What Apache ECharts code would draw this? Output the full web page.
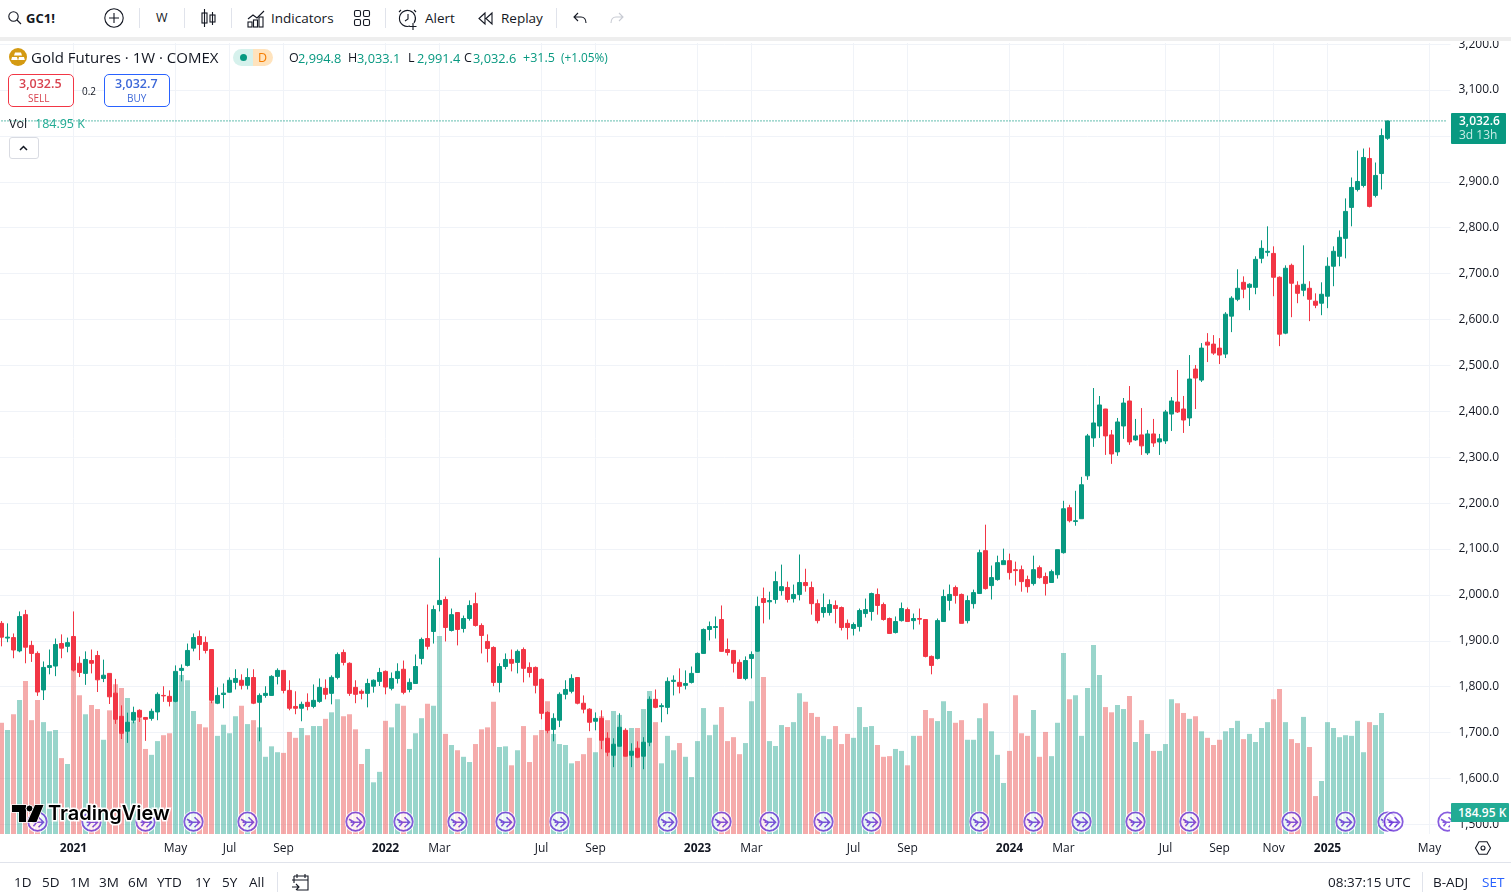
<!DOCTYPE html>
<html>
<head>
<meta charset="utf-8">
<title>GC1! weekly</title>
<script src="https://cdn.jsdelivr.net/npm/echarts@6/dist/echarts.min.js"></script>
<style>
html,body{margin:0;padding:0;background:#fff;width:1511px;height:892px;overflow:hidden}
body,div,span{font-family:"Open Sans","Noto Sans",sans-serif;color:#131722}
#main{position:absolute;left:0;top:0;width:1511px;height:892px}
.t{position:absolute;white-space:nowrap;line-height:1;font-size:13.5px}
.b{position:absolute;background:#e0e3eb}
.g{color:#089981}
svg{position:absolute;overflow:visible}
svg *{fill:none;stroke:#131722;stroke-width:1.1}
</style>
</head>
<body>
<div id="main"></div>

<!-- toolbar -->
<div class="b" style="left:0;top:0;width:1511px;height:37px;background:#fff"></div>
<div class="b" style="left:0;top:37px;width:1511px;height:4px;background:#eeeeee"></div>
<svg style="left:8px;top:11px" width="14" height="14"><circle cx="5.5" cy="5.5" r="4.7"/><path d="M9 9l4 4"/></svg>
<span class="t" style="left:26px;top:12px;font-weight:700;font-size:13px">GC1!</span>
<svg style="left:104px;top:8px" width="20" height="20"><circle cx="10" cy="10" r="9.2"/><path d="M10 5v10M5 10h10"/></svg>
<div class="b" style="left:139px;top:8px;width:1px;height:20px"></div>
<span class="t" style="left:156px;top:12px;font-size:12.5px">W</span>
<div class="b" style="left:184px;top:8px;width:1px;height:20px"></div>
<svg style="left:201px;top:9px" width="15" height="18"><path d="M3.5 0v18M11.5 3v13"/><rect x="1" y="4" width="5" height="10"/><rect x="9" y="6" width="5" height="7"/></svg>
<div class="b" style="left:231px;top:8px;width:1px;height:20px"></div>
<svg style="left:247px;top:9px" width="18" height="18"><path d="M1 10l5-4 4 3 7-7"/><rect x="1" y="13" width="4" height="5"/><rect x="6.5" y="11" width="4" height="7"/><rect x="12" y="8" width="4" height="10"/></svg>
<span class="t" style="left:271px;top:12px">Indicators</span>
<svg style="left:354px;top:10px" width="16" height="16"><rect x="0.5" y="0.5" width="6" height="6" rx="1.5"/><rect x="9.5" y="0.5" width="6" height="6" rx="1.5"/><rect x="0.5" y="9.5" width="6" height="6" rx="1.5"/><rect x="9.5" y="9.5" width="6" height="6" rx="1.5"/></svg>
<div class="b" style="left:385px;top:8px;width:1px;height:20px"></div>
<svg style="left:399px;top:8px" width="20" height="22"><path d="M15 15a8 8 0 1 0-4 3M9 6v5l-3 2M2 2L0 4M15 2l2 2M14 15v7M10.500 18.500h7"/></svg>
<span class="t" style="left:425px;top:12px">Alert</span>
<svg style="left:478px;top:12px" width="16" height="13"><path d="M7 1L1 6.500l6 5.500zM14 1L8 6.500l6 5.500z"/></svg>
<span class="t" style="left:501px;top:12px">Replay</span>
<div class="b" style="left:556px;top:8px;width:1px;height:20px"></div>
<svg style="left:573px;top:12px" width="14" height="12"><path d="M5 1L1 5l4 4M1 5h7c3 0 5 2 5 6"/></svg>
<svg style="left:610px;top:12px" width="14" height="12"><path style="stroke:#c8cbd3" d="M9 1l4 4-4 4M13 5H6c-3 0-5 2-5 6"/></svg>

<!-- legend -->
<svg style="left:9px;top:48px" width="18" height="18"><circle cx="9" cy="9" r="9" style="fill:#d49a12;stroke:none"/><path style="fill:#fff;stroke:none" d="M6 4.500h6l1 3H5zM3 9h5l.8 3H2.200zM10 9h5l.8 3H9.200z"/></svg>
<span class="t" style="left:31px;top:50px;font-size:15px">Gold Futures · 1W · COMEX</span>
<div class="b" style="left:233px;top:49px;width:20px;height:17px;background:#d6f1ec;border-radius:9px 0 0 9px"></div>
<div class="b" style="left:253px;top:49px;width:20px;height:17px;background:#ffe3bd;border-radius:0 9px 9px 0"></div>
<div class="b" style="left:240px;top:54px;width:7px;height:7px;background:#089981;border-radius:50%"></div>
<span class="t" style="left:258px;top:52px;font-size:12.5px;color:#f57c00">D</span>
<span class="t" style="left:289px;top:52px;font-size:12.5px">O</span><span class="t g" style="left:298px;top:52px;font-size:12.8px">2,994.8</span>
<span class="t" style="left:348px;top:52px;font-size:12.5px">H</span><span class="t g" style="left:357px;top:52px;font-size:12.8px">3,033.1</span>
<span class="t" style="left:408px;top:52px;font-size:12.5px">L</span><span class="t g" style="left:417px;top:52px;font-size:12.8px">2,991.4</span>
<span class="t" style="left:464px;top:52px;font-size:12.5px">C</span><span class="t g" style="left:473px;top:52px;font-size:12.8px">3,032.6</span>
<span class="t g" style="left:523px;top:52px;font-size:12.5px">+31.5</span><span class="t g" style="left:561px;top:52px;font-size:11.8px">(+1.05%)</span>

<div class="b" style="left:8px;top:74px;width:64px;height:31px;background:#fff;border:1px solid #f23645;border-radius:5px"></div>
<span class="t" style="left:19px;top:78px;font-size:12.5px;font-weight:600;color:#d8434f">3,032.5</span>
<span class="t" style="left:28px;top:93px;font-size:10px;color:#d8434f">SELL</span>
<span class="t" style="left:82px;top:86px;font-size:10px">0.2</span>
<div class="b" style="left:104px;top:74px;width:64px;height:31px;background:#fff;border:1px solid #2962ff;border-radius:5px"></div>
<span class="t" style="left:115px;top:78px;font-size:12.5px;font-weight:600;color:#3d68d8">3,032.7</span>
<span class="t" style="left:127px;top:93px;font-size:10px;color:#3d68d8">BUY</span>

<span class="t" style="left:9px;top:118px;font-size:12.5px">Vol</span>
<span class="t" style="left:35px;top:118px;font-size:12.5px;color:#22ab94">184.95 K</span>
<div class="b" style="left:9px;top:137px;width:28px;height:20px;background:#fff;border:1px solid #d9dbe2;border-radius:3px"></div>
<svg style="left:19px;top:145px" width="9" height="6"><path style="stroke-width:1.5" d="M1 5l3.500-3.500L8 5"/></svg>

<!-- price tags -->
<div class="b" style="left:1450px;top:822px;width:9px;height:13px;background:#fff"></div>
<div class="b" style="left:1451px;top:113px;width:55px;height:31px;background:#089981;border-radius:1px"></div>
<span class="t" style="left:1459px;top:115px;font-size:12px;font-weight:600;color:#fff">3,032.6</span>
<span class="t" style="left:1459px;top:129px;font-size:12px;color:#c9ece6">3d 13h</span>
<div class="b" style="left:1451px;top:803px;width:58px;height:19px;background:#22ab94;border-radius:1px"></div>
<span class="t" style="left:1458px;top:807px;font-size:12px;font-weight:600;color:#fff">184.95 K</span>

<!-- logo -->
<svg style="left:12px;top:805px" width="32" height="17"><path style="fill:#000;stroke:#fff;stroke-width:1.500;paint-order:stroke" d="M0 0h14v17H7V7H0z"/><circle cx="17.500" cy="3.500" r="3.500" style="fill:#000;stroke:#fff;stroke-width:1"/><path style="fill:#000;stroke:#fff;stroke-width:1.500;paint-order:stroke" d="M23 0h8.500l-7 17H15.500z"/></svg>
<span class="t" style="left:48px;top:803px;font-family:Inter,sans-serif;font-weight:600;font-size:20px;color:#000;-webkit-text-stroke:3px #fff;paint-order:stroke fill">TradingView</span>

<!-- footer -->
<div class="b" style="left:0;top:862px;width:1511px;height:1px"></div>
<span class="t" style="left:14px;top:876px">1D</span>
<span class="t" style="left:42px;top:876px">5D</span>
<span class="t" style="left:70px;top:876px">1M</span>
<span class="t" style="left:99px;top:876px">3M</span>
<span class="t" style="left:128px;top:876px">6M</span>
<span class="t" style="left:157px;top:876px">YTD</span>
<span class="t" style="left:195px;top:876px">1Y</span>
<span class="t" style="left:222px;top:876px">5Y</span>
<span class="t" style="left:249px;top:876px">All</span>
<div class="b" style="left:277px;top:872px;width:1px;height:20px"></div>
<svg style="left:291px;top:873px" width="19" height="18"><path d="M3 3h14v14H6M3 3v7M1 7h16M6 1v4M14 1v4M1 14h7M5 11l3 3-3 3"/></svg>
<span class="t" style="left:1328px;top:876px">08:37:15 UTC</span>
<div class="b" style="left:1422px;top:872px;width:1px;height:20px"></div>
<span class="t" style="left:1433px;top:876px">B-ADJ</span>
<span class="t" style="left:1482px;top:876px;color:#2962ff">SET</span>
<svg style="left:1475px;top:841px" width="16" height="14"><path d="M4 .7h8L15.500 7 12 13.300H4L.5 7z"/><circle cx="8" cy="7" r="2"/></svg>

<script>
// weekly bars
var opens = [
1938,1906,1907,1878,1957,1890,1872.5,1793,1842,1845,
1894,1888,1909.4,1851,1829,1857,1868,1818,1829,1786,
1735.5,1703,1727,1748.6,1733,1731,1745,1781,1779,1768,
1835.5,1846.4,1884,1909.4,1896.4,1881,1764,1783,1788,1809.4,
1814,1803,1820,1766,1781,1781,1822.5,1835.5,1792,1757,
1753,1766,1757,1768,1796.4,1785.5,1820.3,1874.6,1851,1798.6,
1790,1785.5,1801,1811.6,1833.4,1796.4,1818,1838,1794,1807,
1861.6,1905,1920.3,1979,1990,1922.5,1961.6,1926.8,1948.6,1981,
1933.4,1898.6,1885.5,1809.4,1844,1859.4,1853,1881,1842,1842,
1816,1744,1707,1727,1783.4,1790,1820,1764,1751,1724.7,
1731,1687.7,1650.7,1670.3,1705,1650.7,1666,1648.6,1679,1772.5,
1756.6,1755,1811.6,1809.4,1803,1809.4,1831,1872.5,1924.7,1929,
1946.4,1881,1879,1853,1818,1861.6,1877,1992,1985,1990,
2009.4,2016,1992,2001,2027,2016,1981,1961.6,1961.6,1977,
1972.5,1938,1927,1931,1959.4,1963.8,2001,1979,1948.6,1918,
1944,1968,1944,1948.6,1946.4,1866,1861.6,1942,1988,2016,
2001,1944,1981,2003,2096.4,2020.3,2033.4,2066,2074.6,2055,
2055,2033.4,2024.7,2059.4,2040,2027,2044,2092,2190,2160,
2166,2259.4,2342,2368,2405,2348.6,2311.6,2368,2422.5,2337.7,
2348.6,2309.4,2350.7,2333.3,2335.5,2394,2420.3,2405,2385.5,2492,
2468,2550.7,2546.4,2537.7,2524.7,2607.3,2644,2681,2670,2670,
2733.3,2746.4,2744,2692,2570.3,2718,2674.6,2663.8,2668,2639.9,
2635.5,2650.7,2716,2737.7,2776.8,2844.2,2883.3,2892,2950.7,2870.3,
2918,2994.8];
var closes = [
1908,1908,1880,1953,1886,1872.5,1788.4,1842,1846,1892,
1884,1896,1836,1831,1859.4,1851,1815,1825,1778,1729,
1698.6,1722.5,1744,1733.4,1729,1746.4,1783.4,1780,1768,1833.4,
1840,1879,1907,1892,1879,1770.3,1781,1786,1814,1818,
1803,1820,1764,1781,1785.5,1822.5,1835.5,1792,1753,1753,
1761.6,1757,1770.3,1798.6,1783.4,1820.3,1870.3,1853,1785.5,1783.4,
1785.5,1807,1814,1831,1799.3,1818,1833.4,1787.7,1809.4,1844,
1903,1888,1968,1988,1929,1957,1924.7,1948.6,1977,1933.4,
1911.6,1883.4,1809.4,1844,1859.4,1851,1877,1840,1831,1803,
1742,1705,1731,1783.4,1794,1818,1764,1751,1722.5,1731,
1683.4,1657.3,1674.7,1711.6,1648.6,1659.4,1646.4,1679,1772.5,1755,
1758.7,1811.6,1814,1800.8,1807,1829,1872.5,1924.7,1931,1931,
1877,1874.6,1851,1818,1857,1870.3,1975,1983.4,1987.7,2029,
2018,1990,2001,2027,2020.3,1981,1944,1972.5,1979,1970.3,
1929,1929,1935.5,1966,1968,2003,1977,1946.4,1916,1942,
1970.3,1942,1948.6,1947,1866,1846.4,1944,1996.4,2001,1998.6,
1938,1987.7,2005,2092,2013.8,2037.7,2070.3,2074.6,2048.6,2053,
2029,2018,2055,2037.7,2024.7,2050.7,2098.6,2187.7,2161.6,2161.6,
2240,2346.4,2374.6,2413.8,2346.4,2307,2376.8,2418,2333.3,2346.4,
2324.7,2350.7,2331,2340,2398.6,2422.5,2398.6,2381,2470.3,2472.5,
2537.7,2544.2,2526.8,2522.5,2611.6,2646.4,2668,2666,2676.8,2731,
2755,2748.6,2692,2568,2711.6,2679,2657,2676.8,2644,2631,
2655,2716,2748.6,2779,2835.5,2887.7,2900.7,2953,2846.4,2913.8,
3000.7,3032.6];
var highs = [
1943,1938,1916,1964,1967.4,1900,1877,1855,1881,1905,
1914,1907,1964,1866,1877,1881,1878,1859,1829,1817,
1759.4,1743.5,1756.5,1750.7,1734,1752.2,1787.7,1801,1792,1846.4,
1848.6,1894,1916,1922.5,1909.4,1881,1798.6,1807,1820.3,1838,
1827,1840,1838,1785.5,1801,1825,1840,1836,1814,1790,
1767.4,1785.5,1805,1818,1816,1824.7,1874.6,1881,1853,1814,
1794,1817.4,1816,1841,1835.5,1831,1851,1857,1818,1870.3,
1907,1979,1977,2081,1996.4,1970.3,1961.6,1955,1988,2005,
1938,1914,1888,1851,1872.5,1881,1881,1885.5,1853,1844,
1818,1746.4,1742,1787.7,1814,1827,1820.3,1781,1753,1744,
1748.6,1700.8,1687.7,1742,1709.4,1676.8,1681,1690,1779,1794,
1763.8,1820.3,1824.7,1840,1835.5,1844,1874.6,1926.8,1942,1953,
1977,1905,1880,1859.4,1866,1877,1996.4,2016,2007,2051,
2066,2029,2022.5,2088,2057,2029,1990,2003,1990,1988,
1974.7,1946.4,1940,1970.3,1992,2005,2014,1983.4,1950.7,1953,
1983.4,1972.5,1959.4,1970.3,1946.4,1868,1948.6,2011.6,2022.5,2020.3,
2003,1998.6,2011.6,2098.6,2153,2064,2085.5,2100.8,2090,2072.5,
2064,2042,2085.5,2064,2048.6,2055,2098.6,2205,2196.4,2226.8,
2257.2,2350.7,2450.7,2433.3,2405.3,2359.4,2385.5,2429,2455,2383.4,
2407,2359.4,2383.4,2350.7,2403,2431,2490,2433.4,2522.5,2500.8,
2548.6,2570.3,2566,2559.4,2616,2650.7,2709.4,2694,2679,2737.7,
2772.5,2803,2759.4,2694,2718,2721.7,2683.3,2761.6,2683.3,2657,
2681,2735.5,2759.4,2794,2863.8,2909.4,2968,2972.5,2974.6,2942,
3016,3033.1];
var lows = [
1888,1897,1862,1875,1851,1854,1780,1771,1827,1823,
1862,1875,1833,1821,1804,1829,1788.4,1810,1762.3,1719,
1686,1677.6,1720.3,1723.2,1682,1726,1727,1767,1757,1766,
1811.6,1844,1877,1858,1872.5,1764,1762,1753,1787,1794,
1794,1794,1762,1681,1776,1780,1805,1785.5,1748.6,1740,
1724.7,1748.6,1753,1765,1772.5,1761.6,1816,1846.4,1780,1764,
1772.5,1755,1787,1801.5,1783.4,1792,1807,1783.4,1787.7,1807,
1848.6,1881,1894,1964,1898.6,1920.3,1890,1918,1944,1931,
1872.5,1853,1801,1787.7,1838,1833.4,1829,1809.4,1820.3,1785.5,
1729,1698.6,1681,1712,1772.5,1785.5,1761.6,1742,1703,1705,
1664,1648.6,1624.7,1670,1648,1624.7,1644.2,1620.3,1670.3,1753,
1722.5,1740,1781,1785.5,1794,1807,1831,1872,1900.8,1905,
1876,1868,1831,1818,1814,1818,1876,1938,1946.4,1981,
1998.6,1983.4,1983.4,1988,2007,1957,1938,1950.7,1955,1938,
1922.5,1903,1911.6,1920.3,1950.7,1944,1957,1944,1916,1916,
1942,1941,1924.7,1935.5,1864,1827,1859.4,1942,1966,1981,
1938,1938,1970.3,2002,2011.6,1990,2031,2066,2033.4,2020.3,
2007,2005,2020.3,2035.5,1998.6,2027,2035.5,2090,2158,2150.7,
2166,2250.7,2322.5,2342,2305,2285.5,2303,2340,2326.8,2335.5,
2305,2305,2322.5,2305,2329,2357.2,2396.4,2352.9,2368,2405,
2463.8,2507.3,2523,2503,2516,2572.5,2639.9,2646.4,2620.3,2655,
2722.5,2737.7,2650.7,2542,2568,2605,2635.5,2650.7,2596.4,2624.7,
2609.4,2624.7,2672.5,2716,2733.3,2803,2879,2887.7,2844.2,2866,
2883.3,2991.4];
// volume in thousands, last week has no visible bar
var volumes = [
170,159,183,205,234,174,205,171,157,159,
116,107,250,212,183,197,191,144,189,229,
223,208,172,177,130,121,142,151,154,202,
243,235,188,168,163,203,150,167,154,180,
196,168,174,163,118,134,125,124,156,147,
162,151,165,165,176,186,206,180,183,160,
107,130,79,95,173,163,199,196,130,154,
177,199,196,302.5,153,136,128,118,110,137.5,
160,163,202,133,134,105,128,165,110,151,
159,203,153,137.5,136,108,111.5,122,147,125,
180,174,188,182,144,162,162,191,218.5,171,
108,150,128,139,118,87,142,192.5,151,167,
194,142,148,122,139,203,278,240,142,134.5,
166.5,163.5,171,215,202,185,179,150,145,165,
137.5,153,147,194,163.5,165,136,118,119,130,
127,105,150,150,189.5,177,172.6,203,188,170,
174,144,144,177,200,157,121,78,127,212,
154,150,189.5,118,156,119,170,276.5,206,212,
150,223,289,243,194,186,197,191,211,140.6,
174,153,127,127,137.5,206,200,185,176,180,
157,147,136,144,157,162,173,145,153,140.6,
162,171,206,221.5,171,145,139,179,133,58,
81,171,162,148,151,150,173,125,171,166.5,
184.95,null];
// week number of each bottom label, the axis runs on past the last bar
var tickWeeks = [12,29,38,47,64,73,90,99,116,125,142,151,168,177,194,203,212,221,238];
var tickLabels = ['2021','May','Jul','Sep','2022','Mar','Jul','Sep','2023','Mar','Jul','Sep','2024','Mar','Jul','Sep','Nov','2025','May'];
var priceTicks = [1500,1600,1700,1800,1900,2000,2100,2200,2300,2400,2500,2600,2700,2800,2900,3000,3100,3200];
// contract rollover flags
var rollWeeks = [6,15,24,32,41,59,67,76,84,93,111,120,128,137,145,163,172,180,189,198,215,224,231,232,241];
var totalWeeks = 242;

var UP = '#089981', DOWN = '#F23645';
var GRID = '#f0f3f8';

var categories = [];
var lastPriceLine = [];
for (var i = 0; i < totalWeeks; i++) {
    categories.push(String(i));
    lastPriceLine.push(closes[closes.length - 1]);
}
var labelOf = {};
for (i = 0; i < tickWeeks.length; i++) {
    labelOf[tickWeeks[i]] = tickLabels[i];
}
var isTick = function (idx) { return labelOf[idx] !== undefined; };

var candles = opens.map(function (o, k) {
    return [o, closes[k], lows[k], highs[k]];
});
var volumeBars = volumes.map(function (v, k) {
    return {
        value: v,
        itemStyle: { color: closes[k] >= opens[k] ? 'rgba(8,153,129,0.41)' : 'rgba(235,80,80,0.48)' }
    };
});
var flagHeight = 18.8;
var rollFlags = rollWeeks.map(function (w) { return [w, flagHeight]; });
var flagSvg = '<svg xmlns="http://www.w3.org/2000/svg" width="44" height="44">' +
    '<circle cx="22" cy="22" r="20" fill="#fff" stroke="#fff" stroke-width="4"/>' +
    '<circle cx="22" cy="22" r="18.500" fill="#fff" stroke="#6b35d8" stroke-width="3.500"/>' +
    '<path d="M9 17l11 6-6 8M12 23h20M24 13l10 10-10 10" fill="none" stroke="#6b35d8" stroke-width="3.200"/></svg>';

var myChart = echarts.init(document.getElementById('main'));

var option = {
    animation: false,
    backgroundColor: '#fff',
    textStyle: { fontFamily: '"Open Sans","Noto Sans",sans-serif' },
    grid: { left: -1.5, top: 43, width: 1452, height: 791, outerBoundsMode: 'none' },
    xAxis: {
        type: 'category',
        data: categories,
        boundaryGap: true,
        axisLine: { show: false },
        axisTick: { show: false },
        axisLabel: {
            interval: function (idx) { return isTick(idx); },
            hideOverlap: false,
            margin: 9,
            color: '#131722',
            fontSize: 12,
            formatter: function (v, idx) {
                var s = labelOf[idx];
                return /^\d/.test(s) ? '{y|' + s + '}' : s;
            },
            rich: { y: { fontWeight: 700, fontSize: 12, color: '#131722' } }
        },
        splitLine: {
            show: true,
            alignWithLabel: true,
            interval: function (idx) { return isTick(idx); },
            lineStyle: { color: GRID, width: 1 }
        }
    },
    yAxis: [{
        type: 'value',
        position: 'right',
        min: 1479.1,
        max: 3202.4,
        scale: true,
        axisLine: { show: false },
        axisTick: { show: false, customValues: priceTicks },
        axisLabel: {
            customValues: priceTicks,
            margin: 8,
            color: '#131722',
            fontSize: 12,
            formatter: function (v) {
                return v.toLocaleString('en-US', { minimumFractionDigits: 1, maximumFractionDigits: 1 });
            }
        },
        splitLine: { show: true, lineStyle: { color: GRID, width: 1 } }
    }, {
        type: 'value',
        min: 0,
        max: 1209,
        show: false,
        splitLine: { show: false }
    }],
    series: [{
        name: 'Vol',
        type: 'bar',
        yAxisIndex: 1,
        barWidth: 5,
        z: 1,
        data: volumeBars
    }, {
        name: 'Last price',
        type: 'line',
        yAxisIndex: 0,
        showSymbol: false,
        silent: true,
        z: 2,
        lineStyle: { color: UP, type: [1, 2], width: 1.2 },
        data: lastPriceLine
    }, {
        name: 'Gold Futures',
        type: 'candlestick',
        yAxisIndex: 0,
        barWidth: 4,
        z: 3,
        itemStyle: { color: UP, color0: DOWN, borderColor: UP, borderColor0: DOWN, borderWidth: 1 },
        data: candles
    }, {
        name: 'Rollover',
        type: 'scatter',
        yAxisIndex: 1,
        clip: false,
        z: 4,
        symbol: 'image://data:image/svg+xml;charset=utf-8,' + encodeURIComponent(flagSvg),
        symbolSize: 22,
        data: rollFlags
    }]
};

myChart.setOption(option);
</script>
</body>
</html>
